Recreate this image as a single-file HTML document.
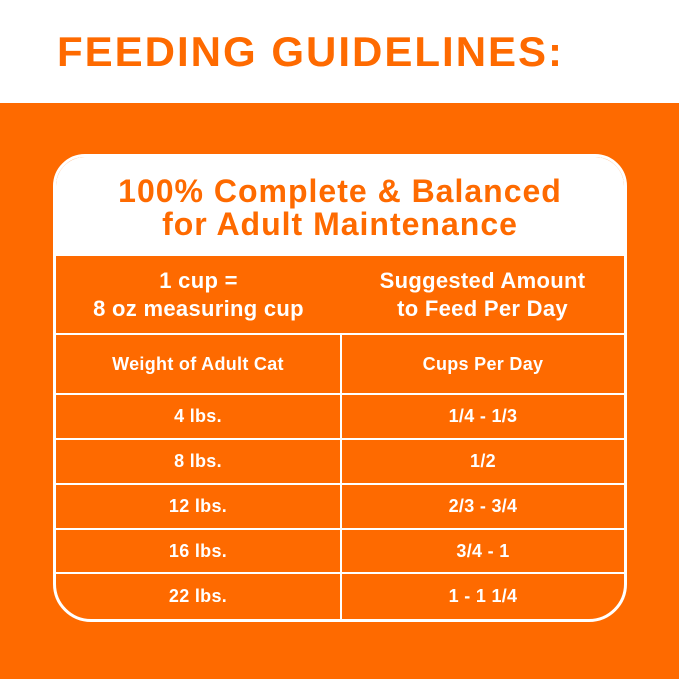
<!DOCTYPE html><html><head><style>
*{margin:0;padding:0;box-sizing:border-box}
body{width:679px;height:679px;background:#fe6a00;position:relative;overflow:hidden;font-family:"Liberation Sans",sans-serif;font-weight:bold}
.top{position:absolute;left:0;top:0;width:679px;height:103px;background:#fff}
.title{position:absolute;left:57px;top:28px;font-size:42px;color:#fe6a00;letter-spacing:2px}
.card{position:absolute;left:53px;top:154px;width:574px;height:468px;border:3px solid #fff;border-radius:32px 32px 38px 38px;overflow:hidden}
.hd{position:absolute;left:0;top:0;width:100%;height:99px;background:#fff;color:#fe6a00;font-size:32px;letter-spacing:1px;text-align:center;line-height:33px;padding-top:18px}
.c{position:absolute;color:#fff;text-align:center;display:flex;align-items:center;justify-content:center;font-size:18px;letter-spacing:0.3px}
.h{position:absolute;background:#fff;height:2px}
.v{position:absolute;background:#fff;width:2px}
</style></head><body>
<div class="top"></div>
<div class="title">FEEDING GUIDELINES:</div>
<div class="card">
<div class="hd">100% Complete &amp; Balanced<br>for Adult Maintenance</div>
<div class="c" style="left:0;top:99px;width:285px;height:78px;font-size:22px;line-height:28px">1 cup =<br>8 oz measuring cup</div>
<div class="c" style="left:285px;top:99px;width:283px;height:78px;font-size:22px;line-height:28px">Suggested Amount<br>to Feed Per Day</div>
<div class="h" style="left:0;top:176px;width:100%"></div>
<div class="v" style="left:284px;top:176px;height:300px"></div>
<div class="h" style="left:0;top:236px;width:100%"></div>
<div class="h" style="left:0;top:281px;width:100%"></div>
<div class="h" style="left:0;top:326px;width:100%"></div>
<div class="h" style="left:0;top:371px;width:100%"></div>
<div class="h" style="left:0;top:415px;width:100%"></div>
<div class="c" style="left:0;top:178px;width:284px;height:58px">Weight of Adult Cat</div>
<div class="c" style="left:286px;top:178px;width:282px;height:58px">Cups Per Day</div>
<div class="c" style="left:0;top:238px;width:284px;height:43px">4 lbs.</div>
<div class="c" style="left:286px;top:238px;width:282px;height:43px">1/4 - 1/3</div>
<div class="c" style="left:0;top:283px;width:284px;height:43px">8 lbs.</div>
<div class="c" style="left:286px;top:283px;width:282px;height:43px">1/2</div>
<div class="c" style="left:0;top:328px;width:284px;height:43px">12 lbs.</div>
<div class="c" style="left:286px;top:328px;width:282px;height:43px">2/3 - 3/4</div>
<div class="c" style="left:0;top:373px;width:284px;height:42px">16 lbs.</div>
<div class="c" style="left:286px;top:373px;width:282px;height:42px">3/4 - 1</div>
<div class="c" style="left:0;top:417px;width:284px;height:45px">22 lbs.</div>
<div class="c" style="left:286px;top:417px;width:282px;height:45px">1 - 1 1/4</div>
</div>
</body></html>
